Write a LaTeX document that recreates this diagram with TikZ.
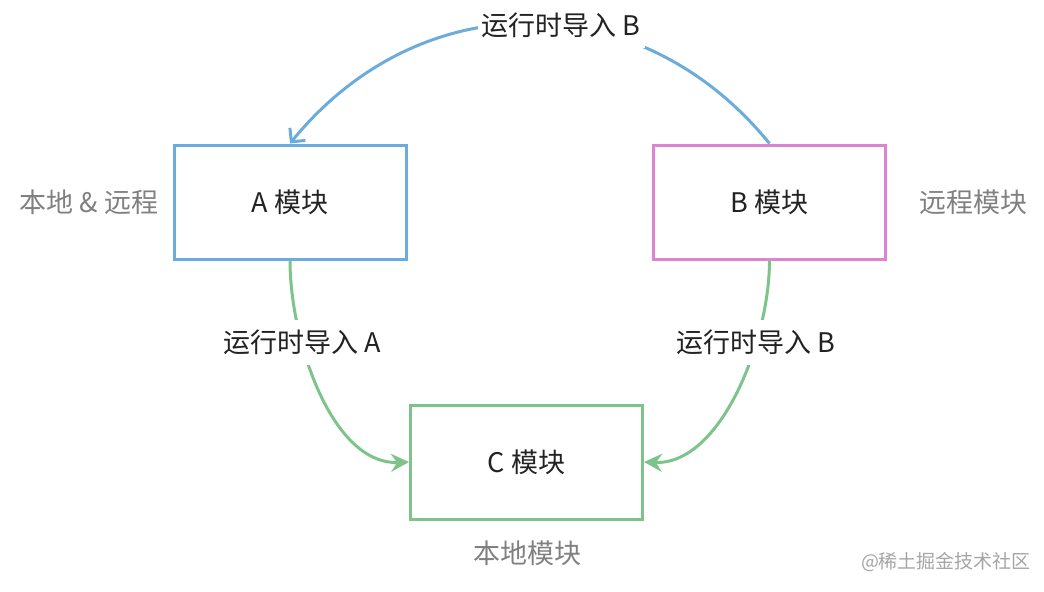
\documentclass[tikz,border=0pt]{standalone}
\usepackage{fontspec}
\setmainfont{Noto Sans CJK SC}
\usetikzlibrary{arrows.meta}
\definecolor{lineblue}{RGB}{108,172,220}
\definecolor{linepink}{RGB}{220,132,208}
\definecolor{linegreen}{RGB}{126,196,138}
\definecolor{textdark}{RGB}{34,34,34}
\definecolor{textgray}{RGB}{128,128,128}
\definecolor{markgray}{RGB}{165,165,165}
\begin{document}
\begin{tikzpicture}[
    x=0.5pt, y=-0.5pt,
    modbox/.style={rectangle, draw, line width=1.5pt, minimum width=116pt, minimum height=57pt, align=center, text=textdark, font=\fontsize{13.5}{16}\selectfont},
    sidelbl/.style={text=textgray, font=\fontsize{13.5}{16}\selectfont},
    edgelbl/.style={fill=white, inner xsep=2pt, inner ysep=5pt, text=textdark, font=\fontsize{13.5}{16}\selectfont},
    curve/.style={line width=1.5pt},
    every node/.style={font=\fontsize{13.5}{16}\selectfont}
]
\useasboundingbox (0,0) rectangle (1044,591);
% Modules
\node[modbox, draw=lineblue] (moda) at (290,202) {A 模块};
\node[modbox, draw=linepink] (modb) at (769.5,202) {B 模块};
\node[modbox, draw=linegreen] (modc) at (526.5,462) {C 模块};
% Side labels
\node[sidelbl] (lbla) at (89,202) {本地 \& 远程};
\node[sidelbl] (lblb) at (973,202) {远程模块};
\node[sidelbl] (lblc) at (527,553) {本地模块};
\node[text=markgray, font=\fontsize{9.5}{11}\selectfont] (mark) at (946,562) {@稀土掘金技术社区};
% Imports
\draw[curve, draw=lineblue, -{Straight Barb[length=5pt,width=10pt,line width=1.5pt]}]
    (modb.north) .. controls +(-130,-160) and +(130,-160) .. (moda.north)
    node[edgelbl, pos=0.44] (impb) {运行时导入 B};
\draw[curve, draw=linegreen, -{Stealth[length=9pt,width=9pt,inset=3pt]}]
    (moda.south) .. controls +(0,80) and +(-77,3) .. (modc.west)
    node[edgelbl, pos=0.31] (impa) {运行时导入 A};
\draw[curve, draw=linegreen, -{Stealth[length=9pt,width=9pt,inset=3pt]}]
    (modb.south) .. controls +(0,80) and +(77,3) .. (modc.east)
    node[edgelbl, pos=0.31] (impc) {运行时导入 B};
\end{tikzpicture}
\end{document}
